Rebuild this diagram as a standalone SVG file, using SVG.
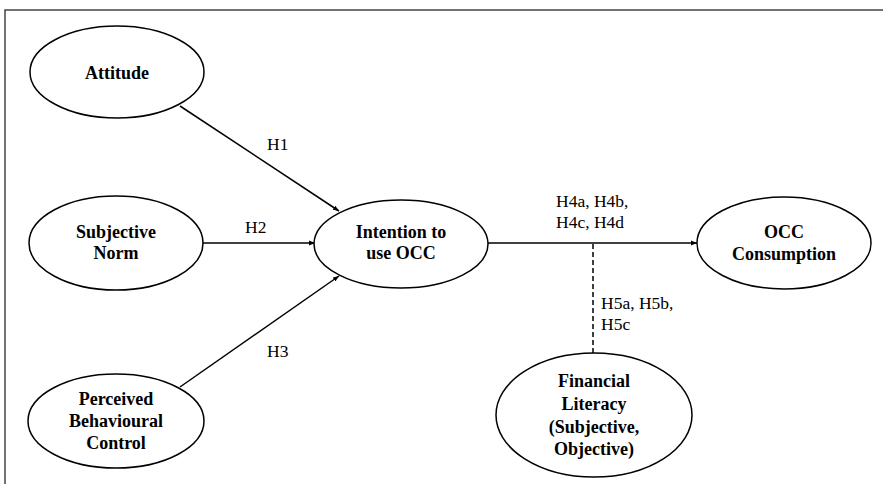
<svg xmlns="http://www.w3.org/2000/svg" width="883" height="484" viewBox="0 0 883 484">
<style>
.n{fill:#fff;stroke:#000;stroke-width:1.5}
.t{font-family:'Liberation Serif','Times New Roman','DejaVu Serif',serif;font-weight:bold;font-size:18px;text-anchor:middle;fill:#000}
.l{font-family:'Liberation Serif','Times New Roman','DejaVu Serif',serif;font-size:17.5px;fill:#000}
.c{stroke:#000;stroke-width:1.5;fill:none}
</style>
<defs>
<marker id="a" viewBox="0 0 10 10" refX="10" refY="5" markerWidth="6" markerHeight="6" orient="auto" markerUnits="userSpaceOnUse">
<path d="M0,1 L10,5 L0,9 Z" fill="#000"/>
</marker>
</defs>
<rect width="883" height="484" fill="#fff"/>
<path d="M5,484 L5,10 L883,10" fill="none" stroke="#444" stroke-width="1.5"/>
<g id="connectors">
<line class="c" x1="180" y1="106" x2="339" y2="211" marker-end="url(#a)"/>
<line class="c" x1="203" y1="243" x2="315" y2="243" marker-end="url(#a)"/>
<line class="c" x1="180" y1="387" x2="339" y2="276" marker-end="url(#a)"/>
<line class="c" x1="488" y1="243" x2="697" y2="243" marker-end="url(#a)"/>
<line class="c" x1="593" y1="244" x2="593" y2="353" stroke-dasharray="5,3"/>
<text class="l" x="267" y="150" font-family="Liberation Serif, serif">H1</text>
<text class="l" x="245" y="233" font-family="Liberation Serif, serif">H2</text>
<text class="l" x="267" y="357" font-family="Liberation Serif, serif">H3</text>
<text class="l" x="556" y="207" font-family="Liberation Serif, serif">H4a, H4b,</text>
<text class="l" x="556" y="228" font-family="Liberation Serif, serif">H4c, H4d</text>
<text class="l" x="601" y="309" font-family="Liberation Serif, serif">H5a, H5b,</text>
<text class="l" x="601" y="330" font-family="Liberation Serif, serif">H5c</text>
</g>
<g id="attitude">
<ellipse class="n" cx="117" cy="72" rx="87" ry="46"/>
<text class="t" x="117" y="79">Attitude</text>
</g>
<g id="subjective-norm">
<ellipse class="n" cx="116" cy="243" rx="87" ry="47"/>
<text class="t" x="116" y="238">Subjective</text>
<text class="t" x="116" y="259">Norm</text>
</g>
<g id="pbc">
<ellipse class="n" cx="116" cy="421" rx="88" ry="47"/>
<text class="t" x="116" y="405">Perceived</text>
<text class="t" x="116" y="427">Behavioural</text>
<text class="t" x="116" y="449">Control</text>
</g>
<g id="intention">
<ellipse class="n" cx="401" cy="244" rx="87" ry="44"/>
<text class="t" x="401" y="238">Intention to</text>
<text class="t" x="401" y="259">use OCC</text>
</g>
<g id="occ-consumption">
<ellipse class="n" cx="784" cy="243" rx="87" ry="46"/>
<text class="t" x="784" y="238">OCC</text>
<text class="t" x="784" y="260">Consumption</text>
</g>
<g id="financial-literacy">
<ellipse class="n" cx="594" cy="415" rx="98" ry="62"/>
<text class="t" x="594" y="387">Financial</text>
<text class="t" x="594" y="410">Literacy</text>
<text class="t" x="594" y="433">(Subjective,</text>
<text class="t" x="594" y="455">Objective)</text>
</g>
</svg>
